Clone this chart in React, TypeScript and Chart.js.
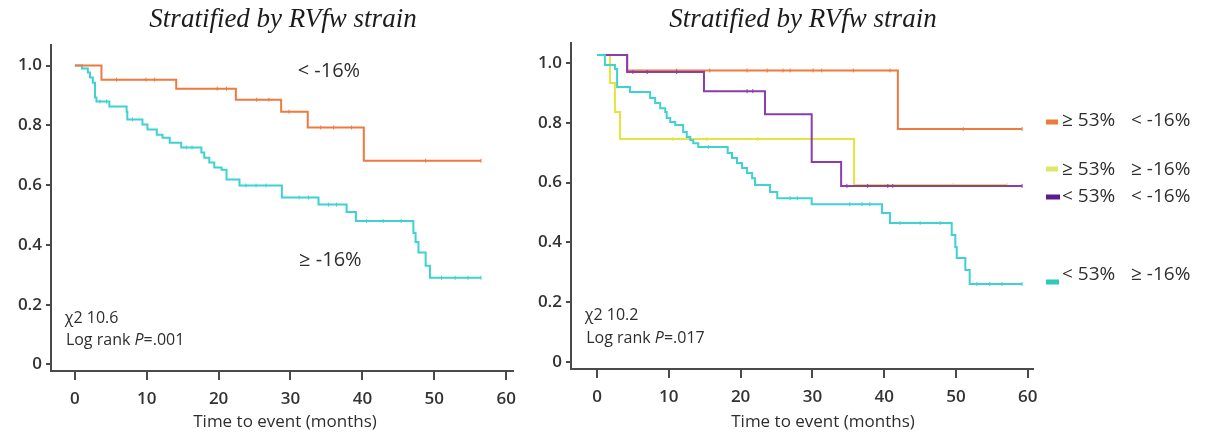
import React, { useEffect, useRef } from 'react';
import { Chart, registerables } from 'chart.js';

Chart.register(...registerables);

// ---------- tick labels ----------
const xTicks = [0, 10, 20, 30, 40, 50, 60];
const yTicks = [0, 0.2, 0.4, 0.6, 0.8, 1.0];

// ---------- left panel: stratified by RVfw strain ----------
const leftLowTimes = [0, 3.7, 14.1, 22.4, 28.7, 32.4, 40.2, 56.5];
const leftLowSurv = [1.0, 0.953, 0.923, 0.886, 0.846, 0.793, 0.682, 0.682];
const leftLowCensor = [5.8, 9.9, 11.1, 19.8, 21.1, 25.3, 27.0, 29.8, 34.2, 36.0, 38.5, 48.8, 56.5];

const leftHighTimes = [0, 1.0, 1.8, 2.1, 2.5, 2.8, 3.0, 4.8, 7.2, 7.3, 9.4, 10.1, 11.4, 12.2, 13.2, 14.8, 17.6, 18.0, 18.7, 19.4, 20.4, 21.1, 22.9, 28.8, 33.9, 37.8, 39.1, 47.1, 47.4, 47.8, 48.8, 49.4, 56.5];
const leftHighSurv = [1.0, 0.99, 0.977, 0.96, 0.943, 0.893, 0.88, 0.863, 0.846, 0.82, 0.803, 0.786, 0.769, 0.759, 0.742, 0.726, 0.709, 0.692, 0.676, 0.659, 0.652, 0.619, 0.599, 0.559, 0.535, 0.51, 0.48, 0.44, 0.41, 0.375, 0.33, 0.29, 0.29];
const leftHighCensor = [3.5, 4.4, 8.0, 15.5, 16.3, 23.8, 25.2, 26.6, 31.2, 32.5, 35.3, 36.4, 40.6, 42.9, 45.4, 51.0, 52.9, 54.7, 56.5];

// ---------- right panel: four groups ----------
const rOrangeTimes = [0, 4.2, 41.9, 59.2];
const rOrangeSurv = [1.027, 0.975, 0.779, 0.779];
const rOrangeCensor = [11.1, 15.7, 20.9, 23.7, 25.9, 26.9, 30.1, 31.3, 35.7, 40.8, 51.0, 59.2];

const rYellowTimes = [0, 1.8, 2.5, 3.2, 35.8, 57.1];
const rYellowSurv = [1.027, 0.933, 0.836, 0.746, 0.592, 0.592];
const rYellowCensor = [10.6, 15.3, 22.4, 49.6, 57.1];

const rPurpleTimes = [0, 4.2, 14.9, 23.4, 29.9, 34.0, 59.2];
const rPurpleSurv = [1.027, 0.97, 0.906, 0.829, 0.669, 0.589, 0.589];
const rPurpleCensor = [5.0, 7.0, 11.1, 20.9, 21.7, 34.8, 37.7, 40.5, 41.2, 59.2];

const rTealTimes = [0, 1.1, 2.5, 2.8, 4.6, 7.4, 8.1, 8.8, 9.5, 9.7, 10.2, 10.9, 12.0, 12.5, 13.0, 13.4, 14.1, 18.2, 18.8, 19.5, 20.2, 20.9, 21.6, 22.0, 24.1, 25.1, 29.9, 39.7, 40.8, 49.4, 49.9, 50.1, 51.3, 51.9, 59.2];
const rTealSurv = [1.027, 0.993, 0.98, 0.92, 0.903, 0.883, 0.866, 0.849, 0.836, 0.816, 0.803, 0.793, 0.769, 0.753, 0.742, 0.732, 0.719, 0.699, 0.682, 0.666, 0.649, 0.632, 0.615, 0.592, 0.569, 0.548, 0.528, 0.498, 0.465, 0.425, 0.385, 0.348, 0.308, 0.261, 0.261];
const rTealCensor = [15.5, 26.9, 27.9, 35.2, 36.9, 38.0, 42.2, 45.0, 47.8, 52.9, 54.7, 56.4, 59.2];

const legendLabels = [
  ['≥ 53%', '< -16%'],
  ['≥ 53%', '≥ -16%'],
  ['< 53%', '< -16%'],
  ['< 53%', '≥ -16%'],
];

const ORANGE = '#EF7A3E';
const TEAL = '#3ED2D3';
const YELLOW = '#E4E43C';
const PURPLE = '#8B3DAF';
const AXIS = '#4a4a4a';
const TEXT = '#2e2e2e';
const SANS = '"Open Sans", "DejaVu Sans", sans-serif';

type Curve = { times: number[]; surv: number[]; censor: number[]; color: string };

function survAt(times: number[], surv: number[], t: number) {
  let s = surv[0];
  for (let i = 0; i < times.length; i++) if (times[i] <= t) s = surv[i];
  return s;
}

function buildDatasets(curves: Curve[]) {
  const ds: any[] = [];
  curves.forEach((c) => {
    ds.push({
      data: c.times.map((t, i) => ({ x: t, y: c.surv[i] })),
      borderColor: c.color,
      borderWidth: 2,
      stepped: 'before',
      pointRadius: 0,
      fill: false,
    });
    ds.push({
      data: c.censor.map((t) => ({ x: t, y: survAt(c.times, c.surv, t) })),
      showLine: false,
      pointStyle: 'line',
      rotation: 90,
      pointRadius: 2,
      borderColor: c.color,
      backgroundColor: c.color,
      pointBorderColor: c.color,
      pointBorderWidth: 1,
    });
  });
  return ds;
}

function buildScales(xMin: number, xMax: number, yMin: number, yMax: number, yWidth: number, xHeight: number) {
  const tickFont = { family: SANS, size: 17, weight: 600 as any };
  return {
    x: {
      type: 'linear',
      min: xMin,
      max: xMax,
      afterBuildTicks: (s: any) => {
        s.ticks = xTicks.map((v) => ({ value: v }));
      },
      afterFit: (s: any) => {
        s.height = xHeight;
      },
      ticks: {
        font: tickFont,
        color: '#333',
        padding: 9,
        maxRotation: 0,
        autoSkip: false,
        callback: (v: any) => String(v),
      },
      grid: { display: true, drawOnChartArea: false, drawTicks: true, tickLength: 9, color: AXIS, lineWidth: 2 },
      border: { display: true, color: AXIS, width: 2 },
    },
    y: {
      type: 'linear',
      min: yMin,
      max: yMax,
      afterBuildTicks: (s: any) => {
        s.ticks = yTicks.map((v) => ({ value: v }));
      },
      afterFit: (s: any) => {
        s.width = yWidth;
      },
      ticks: {
        font: tickFont,
        color: '#333',
        padding: 4,
        autoSkip: false,
        callback: (v: any) => (v === 0 ? '0' : Number(v).toFixed(1)),
      },
      grid: { display: true, drawOnChartArea: false, drawTicks: true, tickLength: 5, color: AXIS, lineWidth: 2 },
      border: { display: true, color: AXIS, width: 2 },
    },
  };
}

function drawLogRank(ctx: CanvasRenderingContext2D, x: number, y: number, p: string) {
  ctx.font = `16px ${SANS}`;
  ctx.fillStyle = TEXT;
  ctx.textAlign = 'left';
  ctx.textBaseline = 'middle';
  const a = 'Log rank ';
  ctx.fillText(a, x, y);
  let cx = x + ctx.measureText(a).width;
  ctx.font = `italic 16px ${SANS}`;
  ctx.fillText('P', cx, y);
  cx += ctx.measureText('P').width;
  ctx.font = `16px ${SANS}`;
  ctx.fillText('=' + p, cx, y);
}

function makeTextPlugin(opts: {
  titleX: number;
  axisTitleX: number;
  groupLabels: { text: string; x: number; y: number }[];
  chi: string;
  chiPos: [number, number];
  p: string;
  pPos: [number, number];
  legend?: boolean;
}) {
  return {
    id: 'texts',
    afterDraw(chart: any) {
      const ctx: CanvasRenderingContext2D = chart.ctx;
      const xs = chart.scales.x;
      const ys = chart.scales.y;
      ctx.save();
      // title
      ctx.font = 'italic 27px "Liberation Serif", "DejaVu Serif", serif';
      ctx.fillStyle = '#1c1c1c';
      ctx.textAlign = 'center';
      ctx.textBaseline = 'middle';
      ctx.fillText('Stratified by RVfw strain', opts.titleX, 20);
      // axis title
      ctx.font = `17px ${SANS}`;
      ctx.fillStyle = TEXT;
      ctx.fillText('Time to event (months)', opts.axisTitleX, 422);
      // group labels
      ctx.font = `500 20px ${SANS}`;
      ctx.textAlign = 'left';
      opts.groupLabels.forEach((g) => {
        ctx.fillText(g.text, xs.getPixelForValue(g.x), ys.getPixelForValue(g.y));
      });
      // stats
      ctx.font = `16px ${SANS}`;
      ctx.fillText(opts.chi, xs.getPixelForValue(opts.chiPos[0]), ys.getPixelForValue(opts.chiPos[1]));
      drawLogRank(ctx, xs.getPixelForValue(opts.pPos[0]), ys.getPixelForValue(opts.pPos[1]), opts.p);
      // legend
      if (opts.legend) {
        const items = [
          { color: ORANGE, sy: 122, ty: 121, sw: 12 },
          { color: '#DCE86A', sy: 169, ty: 170, sw: 12 },
          { color: '#5A1D8E', sy: 197, ty: 197, sw: 14 },
          { color: '#2FC9B8', sy: 282, ty: 275, sw: 13 },
        ];
        items.forEach((it, i) => {
          ctx.fillStyle = it.color;
          ctx.fillRect(521, it.sy - 2.5, it.sw, 5);
          ctx.fillStyle = TEXT;
          ctx.font = `500 19px ${SANS}`;
          ctx.textBaseline = 'middle';
          ctx.fillText(legendLabels[i][0], 537, it.ty);
          ctx.fillText(legendLabels[i][1], 606, it.ty);
        });
      }
      ctx.restore();
    },
  };
}

export default function App() {
  const leftRef = useRef<HTMLCanvasElement | null>(null);
  const rightRef = useRef<HTMLCanvasElement | null>(null);

  useEffect(() => {
    if (!leftRef.current || !rightRef.current) return;
    const leftCurves: Curve[] = [
      { times: leftLowTimes, surv: leftLowSurv, censor: leftLowCensor, color: ORANGE },
      { times: leftHighTimes, surv: leftHighSurv, censor: leftHighCensor, color: TEAL },
    ];
    const rightCurves: Curve[] = [
      { times: rTealTimes, surv: rTealSurv, censor: rTealCensor, color: TEAL },
      { times: rPurpleTimes, surv: rPurpleSurv, censor: rPurpleCensor, color: PURPLE },
      { times: rYellowTimes, surv: rYellowSurv, censor: rYellowCensor, color: YELLOW },
      { times: rOrangeTimes, surv: rOrangeSurv, censor: rOrangeCensor, color: ORANGE },
    ];

    const common = {
      responsive: false,
      animation: false as const,
      devicePixelRatio: 1,
      events: [] as any[],
    };

    const left = new Chart(leftRef.current, {
      type: 'line',
      data: { datasets: buildDatasets(leftCurves) },
      options: {
        ...common,
        layout: { padding: { left: 0, right: 10, top: 45, bottom: 0 } },
        plugins: { legend: { display: false }, tooltip: { enabled: false }, title: { display: false } },
        scales: buildScales(-3.32, 60.94, -0.0218, 1.069, 51, 66) as any,
      },
      plugins: [
        makeTextPlugin({
          titleX: 283,
          axisTitleX: 285,
          groupLabels: [
            { text: '< -16%', x: 31.0, y: 0.98 },
            { text: '≥ -16%', x: 31.2, y: 0.348 },
          ],
          chi: 'χ2 10.6',
          chiPos: [-1.4, 0.154],
          p: '.001',
          pPos: [-1.25, 0.08],
        }) as any,
      ],
    });

    const right = new Chart(rightRef.current, {
      type: 'line',
      data: { datasets: buildDatasets(rightCurves) },
      options: {
        ...common,
        layout: { padding: { left: 0, right: 179, top: 43, bottom: 0 } },
        plugins: { legend: { display: false }, tooltip: { enabled: false }, title: { display: false } },
        scales: buildScales(-3.62, 60.72, -0.0234, 1.067, 46, 68) as any,
      },
      plugins: [
        makeTextPlugin({
          titleX: 278,
          axisTitleX: 298,
          groupLabels: [],
          chi: 'χ2 10.2',
          chiPos: [-1.7, 0.157],
          p: '.017',
          pPos: [-1.5, 0.08],
          legend: true,
        }) as any,
      ],
    });

    return () => {
      left.destroy();
      right.destroy();
    };
  }, []);

  return (
    <div style={{ position: 'absolute', left: 0, top: 0, width: 1212, height: 437, background: '#fff', overflow: 'hidden' }}>
      <canvas ref={leftRef} width={525} height={437} style={{ position: 'absolute', left: 0, top: 0 }} />
      <canvas ref={rightRef} width={687} height={437} style={{ position: 'absolute', left: 525, top: 0 }} />
    </div>
  );
}
